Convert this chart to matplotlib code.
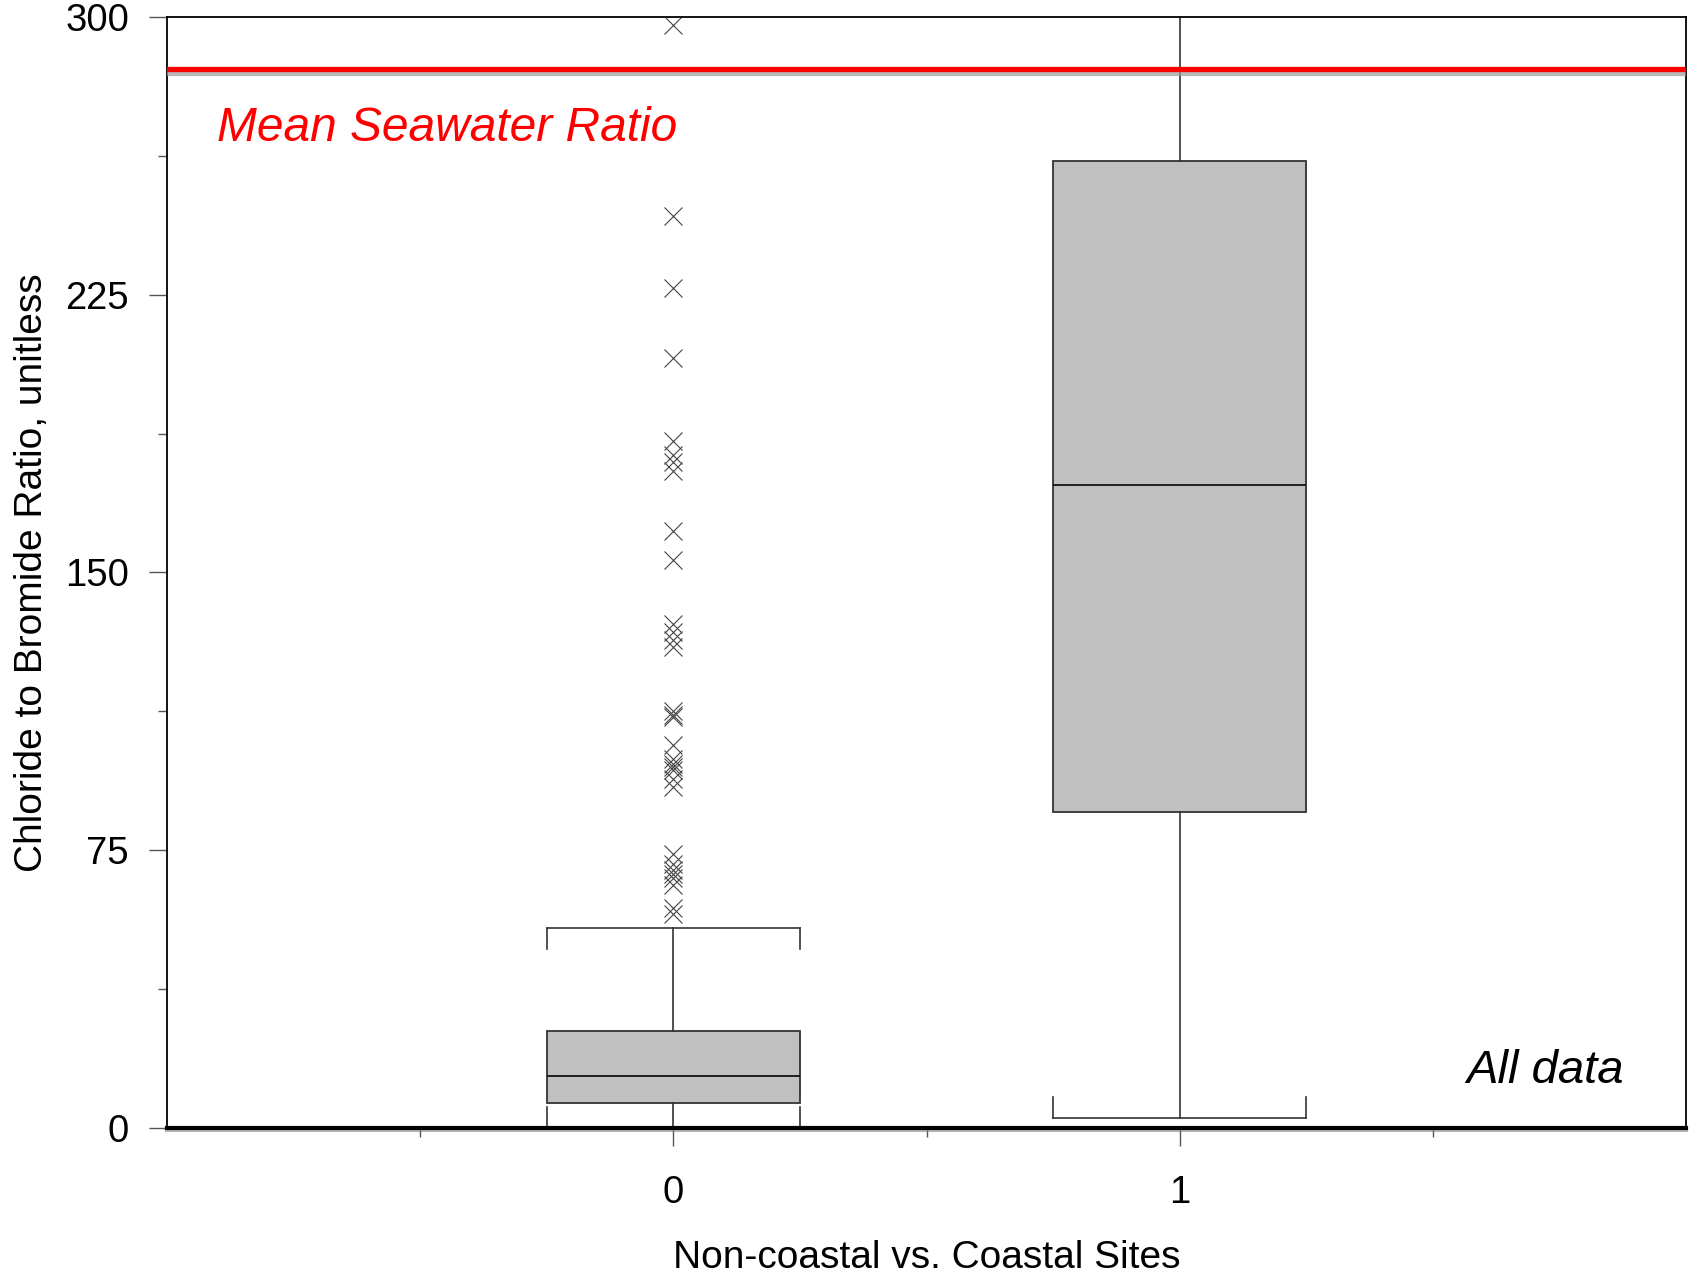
import matplotlib
matplotlib.use("Agg")
import matplotlib.pyplot as plt
import matplotlib.patheffects as pe
from matplotlib.ticker import MultipleLocator

plt.rcParams['font.family'] = ['Liberation Sans', 'DejaVu Sans']

# --- data ---
groups = [0, 1]
q1 = [6.7, 85.2]
medians = [14.0, 173.5]
q3 = [26.2, 261.1]
whisker_lo = [0.0, 2.6]
whisker_hi = [54.0, 320.0]
fliers_0 = [297.8, 246.3, 226.9, 208.0, 185.6, 181.6, 179.9, 177.5,
            161.1, 153.5, 136.2, 133.9, 131.9, 129.8,
            112.5, 111.6, 111.0,
            103.3, 99.7, 98.4, 97.5, 96.6, 94.3, 92.1,
            73.9, 71.4, 69.6, 68.7, 67.4, 65.6, 59.3, 57.9]
fliers_1 = []
seawater_ratio = 286
y_ticks = [0, 75, 150, 225, 300]

fig = plt.figure(figsize=(17, 12.75), dpi=100)
ax = fig.add_axes([0.098, 0.1153, 0.894, 0.8714])

stats = []
for i, g in enumerate(groups):
    stats.append(dict(med=medians[i], q1=q1[i], q3=q3[i],
                      whislo=whisker_lo[i], whishi=whisker_hi[i],
                      fliers=[fliers_0, fliers_1][i], label=str(g)))

edge = '#333333'
ax.bxp(stats, positions=groups, widths=0.5, capwidths=0.5,
       patch_artist=True,
       boxprops=dict(facecolor='#c0c0c0', edgecolor=edge, linewidth=1.3),
       medianprops=dict(color='#111111', linewidth=1.3),
       whiskerprops=dict(color=edge, linewidth=1.2),
       capprops=dict(color=edge, linewidth=1.2),
       flierprops=dict(marker='x', markersize=13, markeredgecolor='#444444',
                       markeredgewidth=0.8, linestyle='none'))

# bracket legs on the caps
leg = 5.7
for i, g in enumerate(groups):
    for dx in (-0.25, 0.25):
        ax.plot([g + dx, g + dx], [whisker_hi[i], whisker_hi[i] - leg],
                color=edge, lw=1.2, zorder=2)
        ax.plot([g + dx, g + dx], [whisker_lo[i], whisker_lo[i] + leg],
                color=edge, lw=1.2, zorder=2)

# seawater reference line
ax.axhline(seawater_ratio, color='#ff0000', lw=3.8, zorder=5,
           path_effects=[pe.SimpleLineShadow(offset=(0, -3), shadow_color='#999999', alpha=0.7),
                         pe.Normal()])
ax.text(0.033, 0.900, 'Mean Seawater Ratio', transform=ax.transAxes,
        color='#ff0000', fontsize=34.5, style='italic', va='center', ha='left')
ax.text(0.9585, 0.051, 'All data', transform=ax.transAxes,
        color='black', fontsize=34, style='italic', va='center', ha='right')

ax.set_xlim(-1, 2)
ax.set_ylim(0, 300)
ax.set_xticks(groups)
ax.set_xticklabels([str(g) for g in groups])
ax.set_xticks([-0.5, 0.5, 1.5], minor=True)
ax.set_yticks(y_ticks)
ax.yaxis.set_minor_locator(MultipleLocator(37.5))

ax.tick_params(axis='both', which='major', length=13, width=1.0, color='#555555',
               labelsize=27.5, direction='out')
ax.tick_params(axis='both', which='minor', length=6.5, width=1.0, color='#555555',
               direction='out')
ax.tick_params(axis='y', which='major', pad=14)
ax.tick_params(axis='x', which='major', pad=21)

ax.set_xlabel('Non-coastal vs. Coastal Sites', fontsize=28, labelpad=21)
ax.set_ylabel('Chloride to Bromide Ratio, unitless', fontsize=28, labelpad=11)

for s in ('left', 'top', 'right'):
    ax.spines[s].set_linewidth(1.3)
    ax.spines[s].set_color('black')
ax.spines['bottom'].set_linewidth(3)
ax.spines['bottom'].set_path_effects([pe.SimpleLineShadow(offset=(0, -1.5), shadow_color='#888888', alpha=0.6),
                                      pe.Normal()])

fig.savefig('out.png', dpi=100)
